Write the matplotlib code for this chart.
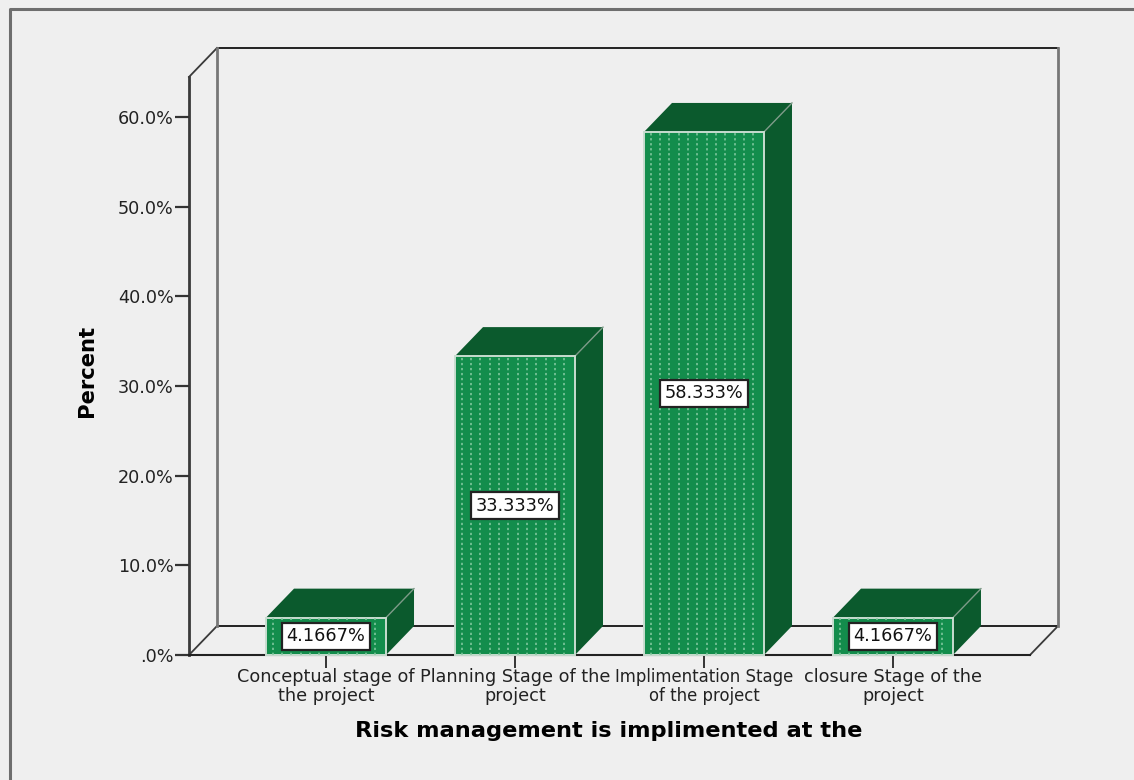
import numpy as np
import matplotlib.pyplot as plt
from matplotlib.patches import Polygon, Rectangle

plt.rcParams['font.family'] = ['DejaVu Sans']

categories = ["Conceptual stage of\nthe project", "Planning Stage of the\nproject",
              "Implimentation Stage\nof the project", "closure Stage of the\nproject"]
percents = [4.1667, 33.333, 58.333, 4.1667]
value_labels = ["4.1667%", "33.333%", "58.333%", "4.1667%"]
y_ticks = [0, 10, 20, 30, 40, 50, 60]
y_tick_labels = [".0%", "10.0%", "20.0%", "30.0%", "40.0%", "50.0%", "60.0%"]

W, H = 1134, 780
BG = '#efefef'
FRONT = '#138d4c'
DARK = '#0b5a2d'
TEXT_SIZE = 12.7

fig = plt.figure(figsize=(W / 100, H / 100), dpi=100, facecolor=BG)

# frame around the chart area
frame = fig.add_axes([0, 0, 1, 1], zorder=0)
frame.set_xlim(0, W)
frame.set_ylim(H, 0)
frame.axis('off')
frame.plot([10, 10, W + 5], [H + 5, 9, 9], color='#6e6e6e', lw=2.2, clip_on=False)

ax = fig.add_axes([189 / W, 1 - 655 / H, 841 / W, 538 / H], zorder=1)
ax.patch.set_visible(False)
ax.set_xlim(-0.725, 3.725)
ax.set_ylim(0, 60)
for s in ax.spines.values():
    s.set_visible(False)

# depth of the fake 3d box, in data units
dx = 28 / 189
dy = 29 / (538 / 60)
bar_w = 120 / 189
x0, x1 = ax.get_xlim()
y_top = 67.7 - dy  # front top edge of the box

wall = '#3a3a3a'
ax.plot([x0, x1], [0, 0], color='#222222', lw=1.5, clip_on=False, zorder=2)
ax.plot([x0 + dx, x1 + dx], [dy, dy], color='#222222', lw=1.4, clip_on=False, zorder=1)
ax.plot([x0, x0 + dx], [0, dy], color=wall, lw=1.3, clip_on=False, zorder=1)
ax.plot([x1, x1 + dx], [0, dy], color=wall, lw=1.3, clip_on=False, zorder=1)
ax.plot([x0, x0], [0, y_top], color=wall, lw=2.0, clip_on=False, zorder=1)
ax.plot([x0, x0 + dx], [y_top, y_top + dy], color=wall, lw=1.3, clip_on=False, zorder=1)
ax.plot([x0 + dx, x1 + dx], [y_top + dy, y_top + dy], color='#222222', lw=1.4, clip_on=False, zorder=1)
ax.plot([x0 + dx, x0 + dx], [dy, y_top + dy], color='#777777', lw=2.0, clip_on=False, zorder=1)
ax.plot([x1 + dx, x1 + dx], [dy, y_top + dy], color='#777777', lw=2.0, clip_on=False, zorder=1)

for i, v in enumerate(percents):
    l, r = i - bar_w / 2, i + bar_w / 2
    top = Polygon([(l, v), (l + dx, v + dy), (r + dx, v + dy), (r, v)], fc=DARK, ec='none', zorder=3, clip_on=False)
    side = Polygon([(r, 0), (r + dx, dy), (r + dx, v + dy), (r, v)], fc=DARK, ec='none', zorder=3, clip_on=False)
    ax.add_patch(top)
    ax.add_patch(side)
    ax.plot([r, r + dx], [v, v + dy], color='#7d9a88', lw=1.0, zorder=4, clip_on=False)
    front = Rectangle((l, 0), bar_w, v, fc=FRONT, ec='#c8ddd0', lw=1.4, zorder=4, clip_on=False)
    ax.add_patch(front)
    # dotted fill pattern on the bar face
    xs = l + (np.arange(1, 13) * 9.33 - 2.6) / 189
    ax.vlines(xs, 0, v, colors='#86cba3', lw=1.1, linestyles=(0, (1.5, 1.77)), zorder=5)
    ax.text(i, v / 2, value_labels[i], ha='center', va='center', fontsize=TEXT_SIZE + 0.1, color='#111111', zorder=6,
            bbox=dict(boxstyle='square,pad=0.27', fc='white', ec='#222222', lw=1.6))

ax.set_xticks(range(len(categories)))
ax.set_xticklabels(categories, fontsize=TEXT_SIZE, linespacing=1.03, color='#222222')
# the long label needs a smaller size or it runs into its neighbour
ax.get_xticklabels()[2].set_fontsize(11.9)
ax.set_yticks(y_ticks)
ax.set_yticklabels(y_tick_labels, fontsize=TEXT_SIZE, color='#222222')
ax.tick_params(axis='x', length=9, width=1.4, pad=0.5, color='#333333')
ax.tick_params(axis='y', length=10, width=1.6, pad=1, color='#333333')

ax.set_xlabel("Risk management is implimented at the", fontsize=16.2, fontweight='bold', labelpad=0)
ax.xaxis.set_label_coords((609 - 189) / 841, -(731 - 655) / 538, transform=ax.transAxes)
ax.xaxis.label.set_va('center')
ax.set_ylabel("Percent", fontsize=15.2, fontweight='bold')
ax.yaxis.set_label_coords((87 - 189) / 841, (655 - 371) / 538, transform=ax.transAxes)
ax.yaxis.label.set_va('center')

fig.savefig('out.png', dpi=100, facecolor=BG)
